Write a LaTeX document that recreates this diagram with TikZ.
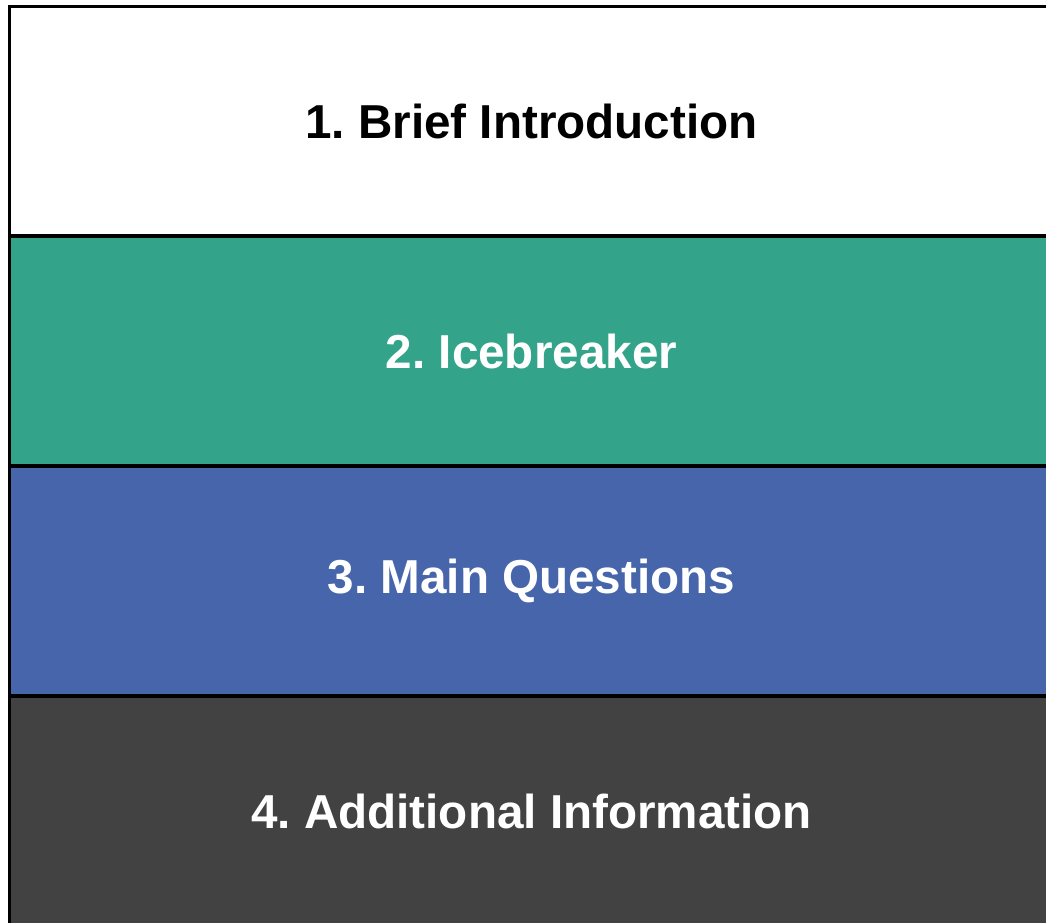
\documentclass[tikz,border=0pt]{standalone}
\usepackage{fontspec}
\setmainfont{Liberation Sans}
\usepackage{tikz, xcolor}
\frenchspacing

\definecolor{icegreen}{RGB}{51,163,138}
\definecolor{mainblue}{RGB}{70,101,170}
\definecolor{addgray}{RGB}{66,66,66}

\tikzset{
    stage/.style={draw=black, line width=0.06cm, inner sep=0pt,
        minimum width=20.88cm, minimum height=4.6cm,
        font=\fontsize{27.1}{32}\selectfont\bfseries}
}

\begin{document}
\begin{tikzpicture}[x=0.02cm, y=-0.02cm]

    \useasboundingbox (0,0) rectangle (1046,923);
    \clip (0,0) rectangle (1046,923);

    \node[stage, fill=white, text=black] (intro) at (531.5,121) {1. Brief Introduction};
    \node[stage, fill=icegreen, text=white] (ice) at (531.5,351) {2. Icebreaker};
    \node[stage, fill=mainblue, text=white] (mainq) at (531.5,581) {3. Main Questions};
    \node[stage, fill=addgray, text=white] (addinfo) at (531.5,811) {4. Additional Information};

\end{tikzpicture}
\end{document}
